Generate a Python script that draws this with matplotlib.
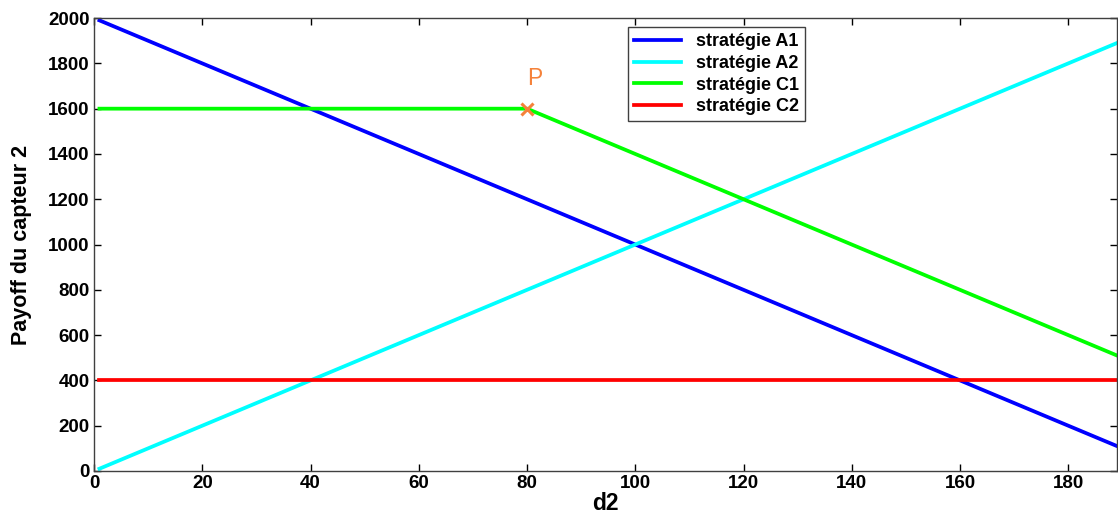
import numpy as np
import matplotlib
matplotlib.use("Agg")
import matplotlib.pyplot as plt

plt.rcParams['font.family'] = ['Liberation Sans', 'DejaVu Sans']

# distance d2 and payoff of each strategy
d2 = np.arange(1, 190)
payoff_A1 = 2000 - 10 * d2
payoff_A2 = 10 * d2
payoff_C1 = np.where(d2 <= 80, 1600, 1600 - 10 * (d2 - 80))
payoff_C2 = np.full_like(d2, 400)

labels = ['stratégie A1', 'stratégie A2', 'stratégie C1', 'stratégie C2']
colors = ['#0000ff', '#00ffff', '#00ff00', '#ff0000']

point_P = (80, 1600)
x_ticks = list(range(0, 181, 20))
y_ticks = list(range(0, 2001, 200))

fig = plt.figure(figsize=(11.18, 5.17), dpi=100)
ax = fig.add_axes([0.0841, 0.089, 0.915, 0.876])

for y, lab, c in zip([payoff_A1, payoff_A2, payoff_C1, payoff_C2], labels, colors):
    ax.plot(d2, y, color=c, lw=2.7, label=lab)

ax.plot(*point_P, marker='x', color='#f5823a', ms=9, mew=2.2, ls='none')
ax.text(point_P[0] + 1.4, point_P[1] + 135, 'P', color='#f5823a', fontsize=16.5,
        ha='center', va='center')

ax.set_xlim(0, 189)
ax.set_ylim(0, 2000)
ax.set_xticks(x_ticks)
ax.set_yticks(y_ticks)
ax.tick_params(direction='in', top=True, right=True, length=5, width=1,
               labelsize=13.5, pad=3)
for lab in ax.get_xticklabels() + ax.get_yticklabels():
    lab.set_fontweight('bold')
for sp in ax.spines.values():
    sp.set_linewidth(1)
    sp.set_color('#404040')

ax.set_xlabel('d2', fontsize=16.5, fontweight='bold', labelpad=0)
ax.set_ylabel('Payoff du capteur 2', fontsize=15.5, fontweight='bold', labelpad=12)

leg = ax.legend(loc='upper left', bbox_to_anchor=(0.522, 0.98), borderaxespad=0,
                fancybox=False, framealpha=1, edgecolor='#404040',
                prop={'weight': 'bold', 'size': 13}, handlelength=2.6,
                labelspacing=0.25, borderpad=0.35, handletextpad=0.8)
leg.get_frame().set_linewidth(1)

fig.savefig('out.png', dpi=100)
